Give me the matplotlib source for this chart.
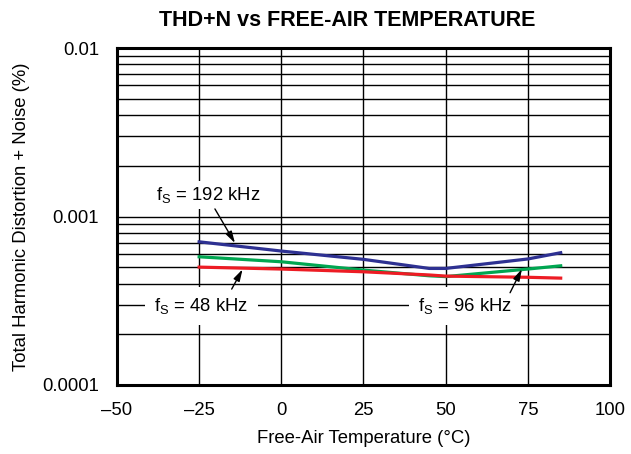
import matplotlib.pyplot as plt
import numpy as np
from matplotlib.ticker import LogLocator, NullFormatter

plt.rcParams['font.family'] = 'Liberation Sans'
plt.rcParams['mathtext.fontset'] = 'custom'
plt.rcParams['mathtext.rm'] = 'Liberation Sans'
plt.rcParams['mathtext.it'] = 'Liberation Sans'

# data
temps = [-25, 0, 25, 45, 50, 75, 85]
thd_192 = [0.000708, 0.000624, 0.000557, 0.000492, 0.000492, 0.000560, 0.000610]
thd_96 = [0.000577, 0.000539, 0.000481, 0.000445, 0.000440, 0.000488, 0.000510]
thd_48 = [0.000501, 0.000488, 0.000470, 0.000450, 0.000443, 0.000436, 0.000431]

x_ticks = [-50, -25, 0, 25, 50, 75, 100]
x_labels = ['\u201350', '\u201325', '0', '25', '50', '75', '100']
y_ticks = [0.0001, 0.001, 0.01]
y_labels = ['0.0001', '0.001', '0.01']

fs = 13.3

fig = plt.figure(figsize=(6.31, 4.54), dpi=100)
ax = fig.add_axes([0.1854, 0.152, 0.7813, 0.742])

ax.plot(temps, thd_192, color='#2e3192', lw=2.3, zorder=3)
ax.plot(temps, thd_96, color='#00a651', lw=2.3, zorder=3)
ax.plot(temps, thd_48, color='#ed1c24', lw=2.3, zorder=4)

ax.set_yscale('log')
ax.set_xlim(-50, 100)
ax.set_ylim(0.0001, 0.01)
ax.set_xticks(x_ticks)
ax.set_xticklabels(x_labels)
ax.set_yticks(y_ticks)
ax.set_yticklabels(y_labels)
ax.yaxis.set_minor_locator(LogLocator(base=10, subs=np.arange(2, 10)))
ax.yaxis.set_minor_formatter(NullFormatter())
ax.tick_params(which='both', length=0, labelsize=fs)
ax.tick_params(axis='x', pad=12)
ax.tick_params(axis='y', pad=13)

ax.grid(True, which='major', color='black', lw=1.0)
ax.grid(True, which='minor', axis='y', color='black', lw=1.0)
ax.set_axisbelow(True)
for s in ax.spines.values():
    s.set_linewidth(2.2)

ax.set_xlabel('Free-Air Temperature (\u00b0C)', fontsize=fs, labelpad=8)
ax.set_ylabel('Total Harmonic Distortion + Noise (%)', fontsize=fs, labelpad=9)
fig.text(0.551, 1 - 21 / 454, 'THD+N vs FREE-AIR TEMPERATURE', fontsize=15.5,
         fontweight='bold', ha='center', va='center')

box = dict(facecolor='white', edgecolor='none', pad=6.5)
arrow = dict(arrowstyle='-|>,head_length=0.7,head_width=0.2', color='black', lw=1.0,
             shrinkA=0, shrinkB=0)

ax.text(-22.3, 0.00134, 'f$_\\mathrm{S}$ = 192 kHz', fontsize=fs, ha='center', va='center',
        bbox=dict(box, pad=3), zorder=5)
ax.text(-24.3, 0.000296, 'f$_\\mathrm{S}$ = 48 kHz', fontsize=fs, ha='center', va='center',
        bbox=box, zorder=5)
ax.text(55.9, 0.000296, 'f$_\\mathrm{S}$ = 96 kHz', fontsize=fs, ha='center', va='center',
        bbox=box, zorder=5)

ax.annotate('', xy=(-14.1, 0.000696), xytext=(-20.2, 0.00111), arrowprops=arrow, zorder=6)
ax.annotate('', xy=(-11.8, 0.000486), xytext=(-15.1, 0.000371), arrowprops=arrow, zorder=6)
ax.annotate('', xy=(73.2, 0.000488), xytext=(69.6, 0.000353), arrowprops=arrow, zorder=6)

fig.savefig('out.png', dpi=100)
